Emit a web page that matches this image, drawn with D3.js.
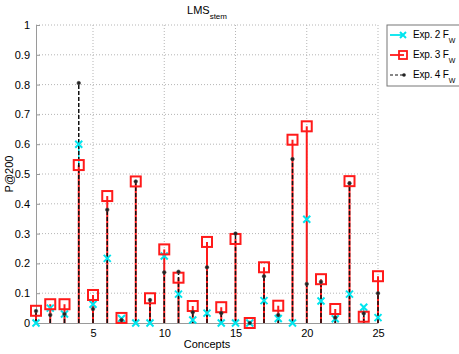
<!DOCTYPE html>
<html>
<head>
<meta charset="utf-8">
<script src="https://cdn.jsdelivr.net/npm/d3@7"></script>
<style>
  body { margin: 0; background: #fff; }
  text { font-family: "Liberation Sans", Arial, sans-serif; }
</style>
</head>
<body>
<svg id="chart" width="459" height="354"></svg>
<script>
// concept ids and P@200 per experiment
const concepts = d3.range(1, 26);
const exp2 = [0.0, 0.05, 0.03, 0.60, 0.063, 0.217, 0.015, 0.0, 0.0, 0.225, 0.097, 0.01, 0.033, 0.0, 0.0, 0.0, 0.075, 0.015, 0.0, 0.348, 0.074, 0.014, 0.097, 0.053, 0.018];
const exp3 = [0.041, 0.063, 0.063, 0.53, 0.094, 0.426, 0.017, 0.475, 0.083, 0.247, 0.152, 0.057, 0.272, 0.053, 0.282, 0.0, 0.187, 0.058, 0.615, 0.66, 0.147, 0.047, 0.476, 0.021, 0.157];
const exp4 = [0.04, 0.027, 0.03, 0.805, 0.047, 0.38, 0.01, 0.475, 0.077, 0.17, 0.172, 0.036, 0.187, 0.033, 0.30, 0.0, 0.157, 0.027, 0.55, 0.131, 0.138, 0.018, 0.469, 0.032, 0.10];
const xTicks = [5, 10, 15, 20, 25];
const yTicks = d3.range(0, 11).map(d => d / 10);

const margin = { top: 25, right: 81, bottom: 31, left: 36 };
const W = 459, H = 354;
const width = W - margin.left - margin.right;
const height = H - margin.top - margin.bottom;

const svg = d3.select('#chart');
const g = svg.append('g').attr('transform', `translate(${margin.left},${margin.top})`);

const x = d3.scaleLinear().domain([1, 25]).range([0, width]);
const y = d3.scaleLinear().domain([0, 1]).range([height, 0]);

// grid lines
g.append('g').selectAll('line').data(yTicks.filter(d => d > 0)).join('line')
  .attr('x1', 0).attr('x2', width)
  .attr('y1', d => y(d)).attr('y2', d => y(d))
  .attr('stroke', '#b5b5b5').attr('stroke-width', 1).attr('stroke-dasharray', '1,2');
g.append('g').selectAll('line').data(xTicks).join('line')
  .attr('x1', d => x(d)).attr('x2', d => x(d))
  .attr('y1', 0).attr('y2', height)
  .attr('stroke', '#b5b5b5').attr('stroke-width', 1).attr('stroke-dasharray', '1,2');

// axes
const xAxis = g.append('g').attr('transform', `translate(0,${height})`)
  .call(d3.axisBottom(x).tickValues(xTicks).tickSizeInner(-4).tickSizeOuter(0).tickPadding(6));
const yAxis = g.append('g')
  .call(d3.axisLeft(y).tickValues(yTicks).tickSizeInner(-4).tickSizeOuter(0).tickPadding(6)
    .tickFormat(d => d === 0 ? '0' : d === 1 ? '1' : d3.format('.1f')(d)));
[xAxis, yAxis].forEach(a => {
  a.select('.domain').attr('stroke', '#9a9a9a');
  a.selectAll('.tick line').attr('stroke', '#9a9a9a');
  a.selectAll('.tick text').attr('font-size', 11).attr('fill', '#000');
});

const rows = concepts.map((c, i) => ({ c, e2: exp2[i], e3: exp3[i], e4: exp4[i] }));

// Exp. 2 stems (cyan)
g.append('g').selectAll('line').data(rows).join('line')
  .attr('x1', d => x(d.c)).attr('x2', d => x(d.c))
  .attr('y1', y(0)).attr('y2', d => y(d.e2))
  .attr('stroke', '#00e5ee').attr('stroke-width', 1.5);
// Exp. 3 stems (red)
g.append('g').selectAll('line').data(rows).join('line')
  .attr('x1', d => x(d.c)).attr('x2', d => x(d.c))
  .attr('y1', y(0)).attr('y2', d => y(d.e3))
  .attr('stroke', '#ff1a1a').attr('stroke-width', 2);
// Exp. 4 stems (black dashed)
g.append('g').selectAll('line').data(rows).join('line')
  .attr('x1', d => x(d.c)).attr('x2', d => x(d.c))
  .attr('y1', y(0)).attr('y2', d => y(d.e4))
  .attr('stroke', '#111').attr('stroke-width', 1.5).attr('stroke-dasharray', '4,2');

// markers
const xMark = (sel, s) => sel.attr('d', `M${-s},${-s}L${s},${s}M${-s},${s}L${s},${-s}`);
g.append('g').selectAll('path').data(rows).join('path')
  .attr('transform', d => `translate(${x(d.c)},${y(d.e2)})`)
  .call(xMark, 3.5)
  .attr('stroke', '#00e5ee').attr('stroke-width', 2).attr('fill', 'none');
g.append('g').selectAll('rect').data(rows).join('rect')
  .attr('x', d => x(d.c) - 5).attr('y', d => y(d.e3) - 5)
  .attr('width', 10).attr('height', 10)
  .attr('fill', 'none').attr('stroke', '#ff1a1a').attr('stroke-width', 2);
g.append('g').selectAll('circle').data(rows).join('circle')
  .attr('cx', d => x(d.c)).attr('cy', d => y(d.e4)).attr('r', 1.8)
  .attr('fill', '#222').attr('stroke', '#444').attr('stroke-width', 0.6);

// title
const title = svg.append('text').attr('x', margin.left + width / 2).attr('y', 14)
  .attr('text-anchor', 'middle').attr('font-size', 11).text('LMS');
title.append('tspan').attr('baseline-shift', 'sub').attr('font-size', 8).text('stem');

// axis labels
svg.append('text').attr('x', margin.left + width / 2).attr('y', 348)
  .attr('text-anchor', 'middle').attr('font-size', 11).text('Concepts');
svg.append('text').attr('transform', `translate(13,${margin.top + height / 2}) rotate(-90)`)
  .attr('text-anchor', 'middle').attr('font-size', 11).text('P@200');

// legend
const legend = svg.append('g').attr('transform', 'translate(387,25)');
legend.append('rect').attr('width', 75).attr('height', 61)
  .attr('fill', '#fff').attr('stroke', '#777').attr('stroke-width', 1);
const items = [
  { label: '2', color: '#00e5ee', kind: 'x' },
  { label: '3', color: '#ff1a1a', kind: 'sq' },
  { label: '4', color: '#111', kind: 'dot' }
];
items.forEach((it, i) => {
  const ly = 10 + i * 20;
  const row = legend.append('g').attr('transform', `translate(0,${ly})`);
  row.append('line').attr('x1', 3).attr('x2', 17).attr('y1', 0).attr('y2', 0)
    .attr('stroke', it.color).attr('stroke-width', it.kind === 'dot' ? 1.2 : 1.8)
    .attr('stroke-dasharray', it.kind === 'dot' ? '3,2' : null);
  if (it.kind === 'x') row.append('path').call(xMark, 3).attr('transform', 'translate(16,0)')
    .attr('stroke', it.color).attr('stroke-width', 2).attr('fill', 'none');
  if (it.kind === 'sq') row.append('rect').attr('x', 12).attr('y', -4).attr('width', 8).attr('height', 8)
    .attr('fill', 'none').attr('stroke', it.color).attr('stroke-width', 1.8);
  if (it.kind === 'dot') row.append('circle').attr('cx', 17).attr('cy', 0).attr('r', 1.8).attr('fill', '#222');
  const t = row.append('text').attr('x', 26).attr('y', 3).attr('font-size', 10)
    .attr('letter-spacing', -0.2).text(`Exp. ${it.label} F`);
  t.append('tspan').attr('dy', 5).attr('font-size', 7).text('W');
});
</script>
</body>
</html>
